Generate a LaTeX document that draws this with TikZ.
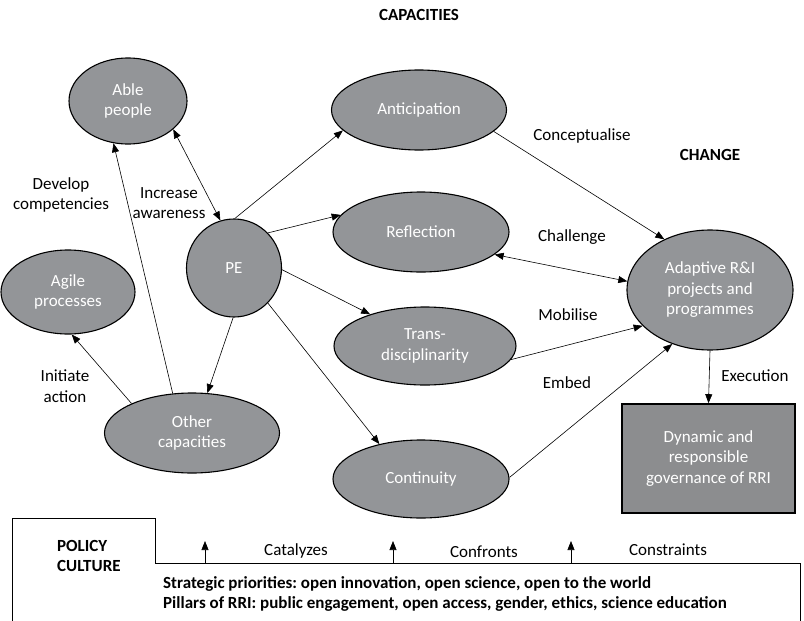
\documentclass[tikz,border=0pt]{standalone}
\usepackage{fontspec}
\setmainfont{Carlito}
\usetikzlibrary{shapes.geometric,arrows.meta}
\definecolor{capfill}{RGB}{147,149,152}
\definecolor{boxfill}{RGB}{140,141,143}
\frenchspacing
\begin{document}
\begin{tikzpicture}[x=1pt,y=-1pt,
  font=\fontsize{17}{20.5}\selectfont,
  capnode/.style={ellipse,draw=black,line width=1.1pt,fill=capfill,text=white,
    inner sep=0pt,align=center},
  govbox/.style={rectangle,draw=black,line width=1.6pt,fill=boxfill,text=white,
    inner sep=0pt,align=center},
  lbl/.style={align=center,inner sep=0pt},
  head/.style={font=\fontsize{17}{20}\selectfont\bfseries,inner sep=0pt},
  link/.style={line width=0.6pt,-{Triangle[length=9pt,width=7pt]}},
  twoway/.style={line width=0.6pt,{Triangle[length=9pt,width=7pt]}-{Triangle[length=9pt,width=7pt]}},
  pillar/.style={font=\fontsize{17}{20}\selectfont\bfseries,anchor=base west,inner sep=0pt}]
\useasboundingbox (0,0) rectangle (804,621);

% headings
\node[head] (capacities) at (419,15) {CAPACITIES};
\node[head] (change) at (710,155) {CHANGE};

% capacities
\node[capnode,minimum width=118pt,minimum height=86pt] (able) at (128,101) {Able\\people};
\node[capnode,minimum width=134pt,minimum height=84pt] (agile) at (68,292) {Agile\\processes};
\node[capnode,minimum width=95pt,minimum height=98pt] (pe) at (234,268) {PE};
\node[capnode,minimum width=175pt,minimum height=80pt] (other) at (192,433) {Other\\capacities};
\node[capnode,minimum width=175pt,minimum height=80pt] (antic) at (419,110) {Anticipation};
\node[capnode,minimum width=176pt,minimum height=80pt] (refl) at (421,232) {Reflection};
\node[capnode,minimum width=182pt,minimum height=78pt] (trans) at (425,346) {Trans-\\disciplinarity};
\node[capnode,minimum width=176pt,minimum height=78pt] (cont) at (421,479) {Continuity};

% change
\node[capnode,minimum width=166pt,minimum height=120pt] (adapt) at (710,290) {Adaptive R\&I\\projects and\\programmes};
\node[govbox,minimum width=173pt,minimum height=109pt] (gov) at (708.5,458.5) {Dynamic and\\responsible\\governance of RRI};

% connectors among capacities
\draw[twoway] (able.-32) -- (pe.106);
\draw[link] (other.116) -- (able.-109);
\draw[link] (other.154) -- (agile.-85);
\draw[link] (pe.89) -- (antic.195);
\draw[link] (pe.46) -- (refl.168);
\draw[link] (pe.-2) -- (trans.150);
\draw[link] (pe.269) -- (other.69);
\draw[link] (pe.-46) -- (cont.140);

% connectors towards change
\draw[link] (antic.-16) -- (adapt.132);
\draw[twoway] (refl.-17) -- (adapt.174);
\draw[link] (trans.-9) -- (adapt.208);
\draw[link] (cont.1) -- (adapt.235);
\draw[link] (adapt.south) -- (gov.north);

% connector labels
\node[lbl] (lbldev) at (61,195) {Develop\\competencies};
\node[lbl] (lblinc) at (169,203) {Increase\\awareness};
\node[lbl] (lblini) at (65,386) {Initiate\\action};
\node[lbl] (lblcon) at (582,136) {Conceptualise};
\node[lbl] (lblcha) at (572,237) {Challenge};
\node[lbl] (lblmob) at (568,315) {Mobilise};
\node[lbl] (lblemb) at (567,383) {Embed};
\node[lbl] (lblexe) at (755,376) {Execution};

% policy culture frame
\coordinate (pbl) at (12,621);
\coordinate (ptl) at (12,518);
\coordinate (ptr) at (155,518);
\coordinate (pstep) at (155,563);
\coordinate (pend) at (800,563);
\coordinate (pbr) at (800,621);
\draw[line width=0.8pt] (pbl) -- (ptl) -- (ptr) -- (pstep) -- (pend) -- (pbr);
\node[head,align=left,anchor=west] (policy) at (57,556) {POLICY\\CULTURE};

% upward influences
\coordinate (cat0) at (205,563); \coordinate (cat1) at (205,541);
\coordinate (cnf0) at (393,563); \coordinate (cnf1) at (393,541);
\coordinate (cst0) at (571,563); \coordinate (cst1) at (571,541);
\draw[link] (cat0) -- (cat1);
\draw[link] (cnf0) -- (cnf1);
\draw[link] (cst0) -- (cst1);
\node[lbl] (lblcat) at (296,551) {Catalyzes};
\node[lbl] (lblcnf) at (484,552) {Confronts};
\node[lbl] (lblcst) at (668,550) {Constraints};

\node[pillar] (strat) at (163,588) {Strategic priorities: open innovation, open science, open to the world};
\node[pillar] (pill) at (163,608) {Pillars of RRI: public engagement, open access, gender, ethics, science education};
\end{tikzpicture}
\end{document}
